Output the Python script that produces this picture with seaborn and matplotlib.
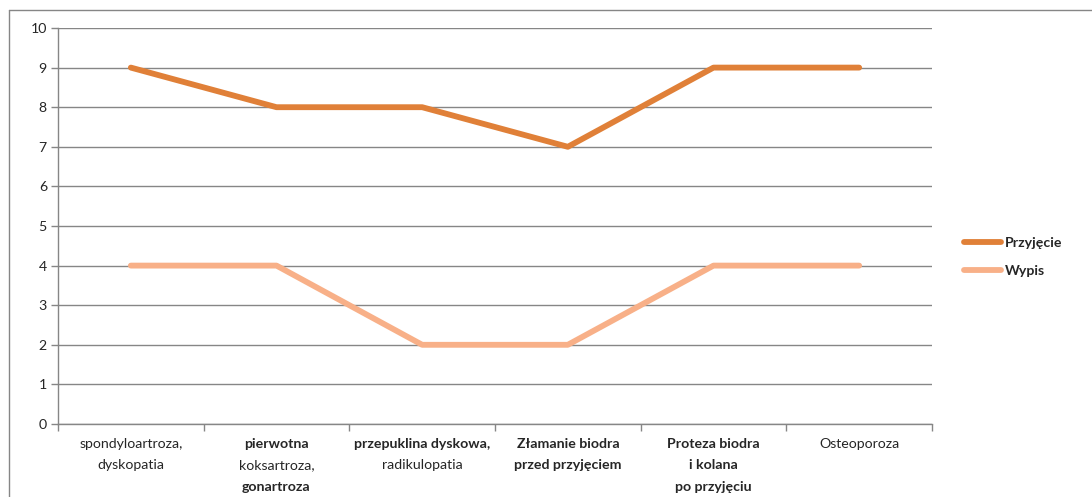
import pandas as pd
import seaborn as sns
import matplotlib.pyplot as plt
from matplotlib.lines import Line2D

# categories: each label is a list of (line, bold?) pieces
categories = [
    [("spondyloartroza,", False), ("dyskopatia", False)],
    [("pierwotna", True), ("koksartroza,", False), ("gonartroza", True)],
    [("przepuklina dyskowa,", True), ("radikulopatia", False)],
    [("Złamanie biodra", True), ("przed przyjęciem", True)],
    [("Proteza biodra", True), ("i kolana", True), ("po przyjęciu", True)],
    [("Osteoporoza", False)],
]
przyjecie = [9, 8, 8, 7, 9, 9]
wypis = [4, 4, 2, 2, 4, 4]
series_names = ["Przyjęcie", "Wypis"]
colors = ["#E08038", "#F8B088"]

df = pd.DataFrame({
    "pos": list(range(len(categories))) * 2,
    "value": przyjecie + wypis,
    "series": [series_names[0]] * len(przyjecie) + [series_names[1]] * len(wypis),
})

sns.set_style("white")
plt.rcParams['font.family'] = ['Lato', 'DejaVu Sans']
fs = 10.2

fig = plt.figure(figsize=(10.92, 4.97), dpi=100)
ax = fig.add_axes([58 / 1092, 1 - 424 / 497, 874 / 1092, 396 / 497])

sns.lineplot(data=df, x="pos", y="value", hue="series", palette=colors,
             linewidth=4.2, ax=ax, legend=False, solid_capstyle="round")

ax.set_xlim(-0.5, len(categories) - 0.5)
ax.set_ylim(0, 10)
ax.set_yticks(range(0, 11))
ax.yaxis.grid(True, color="#868686", linewidth=1)
ax.set_axisbelow(True)
ax.set_xlabel("")
ax.set_ylabel("")
ax.set_xticks([i - 0.5 for i in range(len(categories) + 1)])
ax.set_xticklabels([])
ax.tick_params(axis="both", direction="out", length=5, color="#868686", width=1,
               labelsize=fs, pad=3)
ax.tick_params(axis="x", bottom=True)
ax.tick_params(axis="y", left=True)
for side in ["top", "right"]:
    ax.spines[side].set_visible(False)
for side in ["left", "bottom"]:
    ax.spines[side].set_color("#868686")
    ax.spines[side].set_linewidth(1)

# multi-line category labels with mixed weight
offsets = [14.4, 29.8, 45.6]
for i, lines in enumerate(categories):
    for j, (txt, bold) in enumerate(lines):
        ax.annotate(txt, xy=(i, 0), xycoords=("data", "axes fraction"),
                    xytext=(0, -offsets[j]), textcoords="offset points",
                    ha="center", va="center", fontsize=fs,
                    fontweight="bold" if bold else "normal")

handles = [Line2D([], [], color=c, linewidth=4.2, solid_capstyle="round") for c in colors]
ax.legend(handles, series_names, loc="center left", frameon=False,
          bbox_to_anchor=(957 / 1092, 1 - 257 / 497), bbox_transform=fig.transFigure,
          borderpad=0, handlelength=2.6, handletextpad=0.3, labelspacing=1.1,
          prop={"size": fs, "weight": "bold"})

# chart area border (left and top)
fig.add_artist(Line2D([9 / 1092, 9 / 1092], [0, 1 - 10 / 497], color="#868686", linewidth=1))
fig.add_artist(Line2D([9 / 1092, 1], [1 - 10 / 497, 1 - 10 / 497], color="#868686", linewidth=1))

fig.savefig("out.png", dpi=100)
